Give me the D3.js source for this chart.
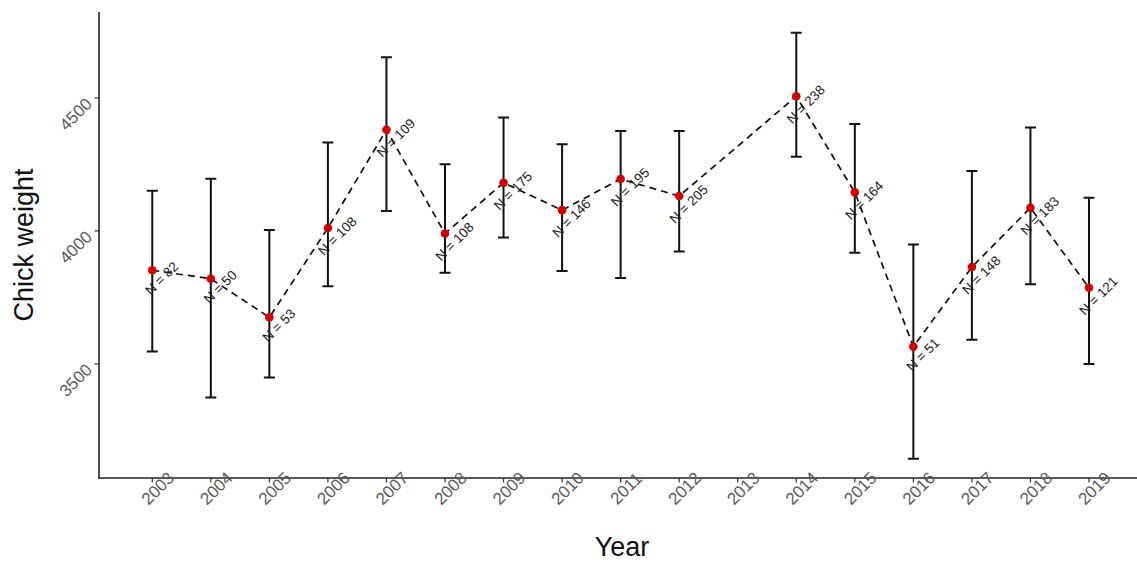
<!DOCTYPE html>
<html>
<head>
<meta charset="utf-8">
<script src="https://cdn.jsdelivr.net/npm/d3@7"></script>
<style>
  body { margin: 0; background: #fff; }
  svg { display: block; font-family: "Liberation Sans", Arial, Helvetica, sans-serif; }
  .axis-line { stroke: #222; stroke-width: 1.6; }
  .tick-mark { stroke: #333; stroke-width: 1.2; }
  .tick-label { fill: #5a5a5a; font-size: 17px; }
  .axis-title { fill: #111; font-size: 27px; }
  .errorbar { stroke: #111; stroke-width: 2; fill: none; }
  .trend { stroke: #111; stroke-width: 1.7; stroke-dasharray: 7,5; fill: none; }
  .node { fill: #d10000; }
  .n-label { fill: #222; font-size: 13.5px; }
</style>
</head>
<body>
<div id="chart"></div>
<script>
// Chick weight per year (2013 has no data)
const years  = [2003, 2004, 2005, 2006, 2007, 2008, 2009, 2010, 2011, 2012, 2014, 2015, 2016, 2017, 2018, 2019];
const means  = [3852, 3820, 3675, 4011, 4380, 3990, 4181, 4078, 4195, 4131, 4506, 4145, 3565, 3864, 4087, 3786];
const lowers = [3547, 3374, 3449, 3792, 4075, 3843, 3975, 3849, 3823, 3923, 4279, 3918, 3143, 3591, 3799, 3500];
const uppers = [4151, 4196, 4003, 4332, 4653, 4251, 4426, 4326, 4376, 4376, 4745, 4402, 3949, 4225, 4389, 4125];
const nObs   = [82, 50, 53, 108, 109, 108, 175, 146, 195, 205, 238, 164, 51, 148, 183, 121];

const xTickLabels = [2003, 2004, 2005, 2006, 2007, 2008, 2009, 2010, 2011, 2012, 2013, 2014, 2015, 2016, 2017, 2018, 2019];
const yTickValues = [3500, 4000, 4500];

class ErrorBarChart {

  constructor(_config) {
    this.config = {
      parentElement: _config.parentElement,
      containerWidth: 1137,
      containerHeight: 563,
      capHalfWidth: 5.5
    }
    // panel edges in page pixels
    this.config.panel = { left: 99, right: 1137, top: 12, bottom: 478 };
    this.initVis();
  }

  initVis() {
    let vis = this;
    const p = vis.config.panel;

    vis.svg = d3.select(vis.config.parentElement).append("svg")
        .attr("width", vis.config.containerWidth)
        .attr("height", vis.config.containerHeight);

    vis.xScale = d3.scaleLinear()
        .domain([2002.09, 2019.82])
        .range([p.left, p.right]);

    vis.yScale = d3.scaleLinear()
        .domain([3071, 4823])
        .range([p.bottom, p.top]);

    vis.data = years.map((y, i) => ({
      year: y, mean: means[i], lower: lowers[i], upper: uppers[i], n: nObs[i]
    }));

    vis.updateVis();
  }

  updateVis() {
    let vis = this;
    const p = vis.config.panel;
    const cap = vis.config.capHalfWidth;

    // Axis lines
    vis.svg.append("line").attr("class", "axis-line")
        .attr("x1", p.left).attr("x2", p.left)
        .attr("y1", p.top).attr("y2", p.bottom + 0.8);
    vis.svg.append("line").attr("class", "axis-line")
        .attr("x1", p.left - 0.8).attr("x2", p.right)
        .attr("y1", p.bottom).attr("y2", p.bottom);

    // x ticks + rotated labels
    let xTick = vis.svg.selectAll(".x-tick")
      .data(xTickLabels)
      .enter().append("g")
        .attr("class", "x-tick")
        .attr("transform", d => "translate(" + vis.xScale(d) + "," + p.bottom + ")");

    xTick.append("line").attr("class", "tick-mark")
        .attr("y1", 0).attr("y2", 4.5);

    xTick.append("text").attr("class", "tick-label")
        .attr("transform", "rotate(-45)")
        .attr("text-anchor", "middle")
        .attr("x", -3.5)
        .attr("y", 17)
        .text(d => d);

    // y ticks + rotated labels
    let yTick = vis.svg.selectAll(".y-tick")
      .data(yTickValues)
      .enter().append("g")
        .attr("class", "y-tick")
        .attr("transform", d => "translate(" + p.left + "," + vis.yScale(d) + ")");

    yTick.append("line").attr("class", "tick-mark")
        .attr("x1", -4.5).attr("x2", 0);

    yTick.append("g")
        .attr("transform", "translate(-3,0) rotate(-45)")
      .append("text").attr("class", "tick-label")
        .attr("text-anchor", "end")
        .attr("x", -7)
        .attr("y", 3)
        .text(d => d);

    // Axis titles
    vis.svg.append("text").attr("class", "axis-title")
        .attr("text-anchor", "middle")
        .attr("x", 622)
        .attr("y", 556)
        .text("Year");

    vis.svg.append("text").attr("class", "axis-title")
        .attr("text-anchor", "middle")
        .attr("transform", "translate(33," + 245 + ") rotate(-90)")
        .text("Chick weight");

    // Error bars
    vis.svg.selectAll(".errorbar")
      .data(vis.data)
      .enter().append("path")
        .attr("class", "errorbar")
        .attr("d", d => {
          const x = vis.xScale(d.year), y0 = vis.yScale(d.lower), y1 = vis.yScale(d.upper);
          return "M" + (x - cap) + "," + y1 + "H" + (x + cap) +
                 "M" + x + "," + y1 + "V" + y0 +
                 "M" + (x - cap) + "," + y0 + "H" + (x + cap);
        });

    // Dashed trend line
    const line = d3.line()
        .x(d => vis.xScale(d.year))
        .y(d => vis.yScale(d.mean));

    vis.svg.append("path")
        .datum(vis.data)
        .attr("class", "trend")
        .attr("d", line);

    // Means
    vis.svg.selectAll(".node")
      .data(vis.data)
      .enter().append("circle")
        .attr("class", "node")
        .attr("cx", d => vis.xScale(d.year))
        .attr("cy", d => vis.yScale(d.mean))
        .attr("r", 4.3);

    // N labels
    vis.svg.selectAll(".n-label")
      .data(vis.data)
      .enter().append("text")
        .attr("class", "n-label")
        .attr("text-anchor", "middle")
        .attr("transform", d => "translate(" + vis.xScale(d.year) + "," + vis.yScale(d.mean) + ") rotate(-45)")
        .attr("x", 1)
        .attr("y", 17)
        .text(d => "N = " + d.n);
  }
}

const chart = new ErrorBarChart({ parentElement: "#chart" });
</script>
</body>
</html>
